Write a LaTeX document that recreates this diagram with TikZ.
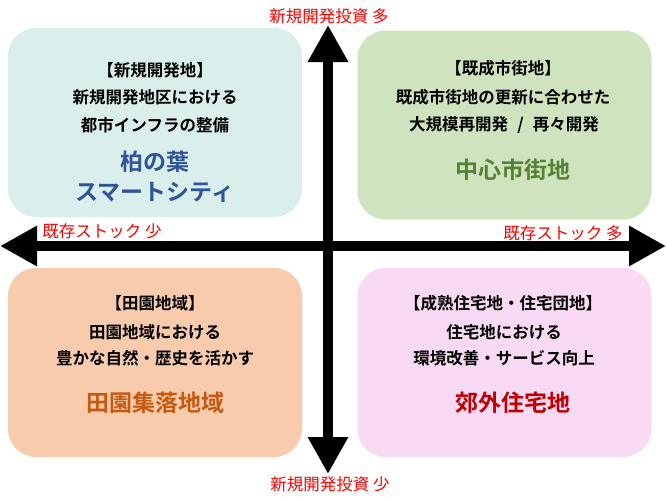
\documentclass[tikz,border=0pt]{standalone}
\usepackage{fontspec}
\setmainfont{Noto Sans CJK JP}[BoldFont={Noto Sans CJK JP Bold}]
\usetikzlibrary{arrows.meta}
\definecolor{tlfill}{HTML}{DAEEEC}
\definecolor{trfill}{HTML}{CFE3BF}
\definecolor{blfill}{HTML}{F8CBAD}
\definecolor{brfill}{HTML}{F9DAF4}
\definecolor{tlblue}{HTML}{2F5597}
\definecolor{trgreen}{HTML}{548235}
\definecolor{blorange}{HTML}{C55A11}
\definecolor{brred}{HTML}{C00000}
\definecolor{axisred}{HTML}{FF0000}
\begin{document}
\begin{tikzpicture}[x=1pt,y=-1pt,
  quad/.style={rounded corners=28pt, inner sep=0pt, minimum width=294pt, minimum height=189pt, draw=none},
  body/.style={inner sep=0pt, font=\fontsize{16.5pt}{18pt}\selectfont\bfseries, text=black},
  title/.style={inner sep=0pt, font=\fontsize{23pt}{25pt}\selectfont\bfseries},
  axlabel/.style={inner sep=0pt, font=\fontsize{16.5pt}{18pt}\selectfont, text=axisred},
  axis/.style={line width=9.5pt, {Triangle[length=37pt,width=38pt]}-{Triangle[length=37pt,width=38pt]}}]
\useasboundingbox (0,0) rectangle (667,501);

% quadrant boxes
\node[quad, fill=tlfill] (tl) at (155,122.5) {};
\node[quad, fill=trfill] (tr) at (504.5,125) {};
\node[quad, fill=blfill] (bl) at (155,362.5) {};
\node[quad, fill=brfill] (br) at (504.5,362.5) {};

% axes
\coordinate (W) at (0,246);
\coordinate (E) at (666,246);
\coordinate (N) at (328,25);
\coordinate (S) at (328,474);
\draw[axis] (W) -- (E);
\draw[axis] (N) -- (S);

% axis labels
\node[axlabel] (lt) at (329,16) {新規開発投資 多};
\node[axlabel] (lb) at (330,484) {新規開発投資 少};
\node[axlabel] (ll) at (102,231) {既存ストック 少};
\node[axlabel] (lr) at (563,233) {既存ストック 多};

% top-left
\node[body] (tl1) at (155,70) {【新規開発地】};
\node[body] (tl2) at (155,97) {新規開発地区における};
\node[body] (tl3) at (155,125) {都市インフラの整備};
\node[title, text=tlblue] (tl4) at (155,162) {柏の葉};
\node[title, text=tlblue] (tl5) at (155,192) {スマートシティ};

% top-right
\node[body] (tr1) at (503,68) {【既成市街地】};
\node[body] (tr2) at (503,97) {既成市街地の更新に合わせた};
\node[body] (tr3) at (504,125) {大規模再開発\hspace{0.55em}/\hspace{0.55em}再々開発};
\node[title, text=trgreen] (tr4) at (513,170) {中心市街地};

% bottom-left
\node[body] (bl1) at (155,303) {【田園地域】};
\node[body] (bl2) at (155,332) {田園地域における};
\node[body] (bl3) at (155,358) {豊かな自然・歴史を活かす};
\node[title, text=blorange] (bl4) at (155,403) {田園集落地域};

% bottom-right
\node[body] (br1) at (503,303) {【成熟住宅地・住宅団地】};
\node[body] (br2) at (504,332) {住宅地における};
\node[body] (br3) at (504,358) {環境改善・サービス向上};
\node[title, text=brred] (br4) at (513,403) {郊外住宅地};
\end{tikzpicture}
\end{document}
